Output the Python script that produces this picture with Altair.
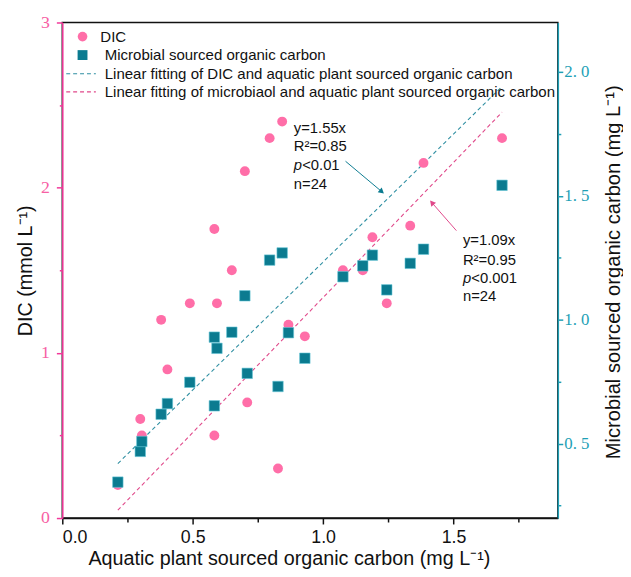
import altair as alt
import pandas as pd

# ---------------- data ----------------
aq_x = [0.213, 0.299, 0.305, 0.379, 0.403, 0.489, 0.583, 0.583, 0.593, 0.650, 0.700, 0.709,
        0.795, 0.827, 0.843, 0.867, 0.930, 1.076, 1.152, 1.189, 1.244, 1.334, 1.385, 1.686]
dic = [0.20, 0.60, 0.50, 1.20, 0.90, 1.30, 0.50, 1.75, 1.30, 1.50, 2.10, 0.70,
       2.30, 0.30, 2.40, 1.17, 1.10, 1.50, 1.50, 1.70, 1.30, 1.77, 2.15, 2.30]
mic = [0.345, 0.469, 0.509, 0.619, 0.662, 0.748, 0.653, 0.930, 0.885, 0.950, 1.097, 0.784,
       1.241, 0.731, 1.270, 0.948, 0.845, 1.174, 1.218, 1.261, 1.121, 1.228, 1.285, 1.543]

fit_x = [0.213, 1.686]
fit_dic = [0.330, 2.613]   # y = 1.55x (left axis)
fit_mic = [0.232, 1.838]   # y = 1.09x (right axis)

ann1_lines = ["y=1.55x", "R\u00b2=0.85", "<0.01", "n=24"]
ann1_x = 0.8875
ann1_y = [2.363, 2.249, 2.137, 2.023]
ann2_lines = ["y=1.09x", "R\u00b2=0.95", "<0.001", "n=24"]
ann2_x = 1.536
ann2_y = [1.321, 1.241, 1.168, 1.094]

arrow1 = {"x": 1.086, "y": 2.160, "x2": 1.225, "y2": 1.976}
arrow2 = {"x": 1.511, "y": 1.360, "x2": 1.417, "y2": 1.473}

legend_labels = ["DIC", "Microbial sourced organic carbon",
                 "Linear fitting of DIC and aquatic plant sourced organic carbon",
                 "Linear fitting of microbiaol and aquatic plant sourced organic carbon"]

# ---------------- styles ----------------
PINK = "#FF6EA8"
PINK_AX = "#F2389A"
PINK_LBL = "#F760A4"
TEAL = "#0B7B90"
TEAL_AX = "#1E9FB6"
BLUE_FIT = "#2F8FA2"
PINK_FIT = "#E0488A"
SANS = "Liberation Sans"
SERIF = "Liberation Serif"
W, H = 502, 502

df = pd.DataFrame({"x": aq_x, "dic": dic, "mic": mic})
fit_df = pd.DataFrame({"x": fit_x, "dic": fit_dic, "mic": fit_mic})
a1 = pd.DataFrame({"x": [ann1_x] * 4, "y": ann1_y, "t": ann1_lines})
a2 = pd.DataFrame({"x": [ann2_x] * 4, "y": ann2_y, "t": ann2_lines})
ar1 = pd.DataFrame([arrow1])
ar2 = pd.DataFrame([arrow2])

XSCALE = alt.Scale(domain=[0, 1.9], nice=False, zero=False)
x_axis = alt.Axis(
    values=[0, 0.25, 0.5, 0.75, 1.0, 1.25, 1.5, 1.75],
    labelExpr="(datum.value * 2) % 1 === 0 ? format(datum.value, '.1f') : ''",
    tickSize={"condition": {"test": "(datum.value * 2) % 1 === 0", "value": 6}, "value": 4},
    grid=False, domainColor="#111", tickColor="#111", domainWidth=1.5, tickWidth=1.5,
    labelFont=SANS, labelFontSize=18, labelColor="#111", labelPadding=5,
    title="Aquatic plant sourced organic carbon (mg L\u207b\u00b9)",
    titleFont=SANS, titleFontSize=20, titleFontWeight="normal", titleColor="#111",
    titleX=229.5, titleY=47, titleAlign="center", titleBaseline="alphabetic", titleAnchor="middle",
)
X = lambda f="x:Q": alt.X(f, scale=XSCALE, axis=x_axis)

left_axis = alt.Axis(
    orient="left",
    values=[0, 0.5, 1, 1.5, 2, 2.5, 3],
    labelExpr="datum.value % 1 === 0 ? format(datum.value, 'd') : ''",
    tickSize={"condition": {"test": "datum.value % 1 === 0", "value": 6}, "value": 3},
    grid=False, domainColor=PINK_AX, tickColor=PINK_AX, domainWidth=1.5, tickWidth=1.5,
    labelFont=SERIF, labelFontSize=18, labelColor=PINK_LBL, labelPadding=7,
    title="DIC (mmol L\u207b\u00b9)",
    titleFont=SANS, titleFontSize=20, titleFontWeight="normal", titleColor="#111",
    titleX=-31, titleY=251, titleAngle=270, titleAlign="center", titleBaseline="alphabetic",
)
YL = lambda f: alt.Y(f, scale=alt.Scale(domain=[0, 3], nice=False, zero=False), axis=left_axis)

right_axis = alt.Axis(
    orient="right",
    values=[0.25, 0.5, 0.75, 1.0, 1.25, 1.5, 1.75, 2.0],
    labelExpr="(datum.value * 2) % 1 === 0 ? replace(format(datum.value, '.1f'), '.', '. ') : ''",
    tickSize={"condition": {"test": "(datum.value * 2) % 1 === 0", "value": 5}, "value": 3},
    grid=False, domainColor=TEAL_AX, tickColor=TEAL_AX, domainWidth=1.5, tickWidth=1.5,
    labelFont=SERIF, labelFontSize=17, labelColor=TEAL_AX, labelPadding=1,
    title="Microbial sourced organic carbon (mg L\u207b\u00b9)",
    titleFont=SANS, titleFontSize=20.4, titleFontWeight="normal", titleColor="#111",
    titleX=62, titleY=252.5, titleAngle=270, titleAlign="center", titleBaseline="alphabetic",
)
YR = lambda f: alt.Y(f, scale=alt.Scale(domain=[0.2, 2.2], nice=False, zero=False), axis=right_axis)


def annotation(a, Y):
    plain = a[~a["t"].str.startswith("<")]
    ptail = a[a["t"].str.startswith("<")]
    m1 = alt.Chart(plain).mark_text(font=SANS, fontSize=15, align="left", baseline="middle",
                                    color="#111").encode(x=X(), y=Y("y:Q"), text="t:N")
    m2 = alt.Chart(ptail).mark_text(font=SANS, fontSize=15, align="left", baseline="middle",
                                    color="#111", dx=8.5).encode(x=X(), y=Y("y:Q"), text="t:N")
    m3 = alt.Chart(ptail).mark_text(font=SANS, fontSize=15, fontStyle="italic", align="left",
                                    baseline="middle", color="#111", text="p").encode(x=X(), y=Y("y:Q"))
    return [m1, m2, m3]


# ---------------- left-axis layer ----------------
circles = alt.Chart(df).mark_point(shape="circle", filled=True, size=100, opacity=1, color=PINK).encode(
    x=X(), y=YL("dic:Q"))
fit_blue = alt.Chart(fit_df).mark_line(color=BLUE_FIT, strokeDash=[4, 3], strokeWidth=1.1).encode(
    x=X(), y=YL("dic:Q"))
arr1_line = alt.Chart(ar1).mark_rule(color=TEAL, strokeWidth=1).encode(
    x=X(), y=YL("y:Q"), x2="x2:Q", y2="y2:Q")
arr1_head = alt.Chart(ar1).mark_point(shape="triangle-up", filled=True, size=40, angle=130, color=TEAL,
                                      opacity=1).encode(x=X("x2:Q"), y=YL("y2:Q"))
left_layer = alt.layer(fit_blue, circles, *annotation(a1, YL), arr1_line, arr1_head)

# ---------------- right-axis layer ----------------
squares = alt.Chart(df).mark_point(shape="square", filled=True, size=112, opacity=1, color=TEAL,
                                   stroke="#62C6D6", strokeWidth=0.6).encode(
    x=X(), y=YR("mic:Q"))
fit_pink = alt.Chart(fit_df).mark_line(color=PINK_FIT, strokeDash=[4, 3], strokeWidth=1.1).encode(
    x=X(), y=YR("mic:Q"))
arr2_line = alt.Chart(ar2).mark_rule(color=PINK_FIT, strokeWidth=1).encode(
    x=X(), y=YR("y:Q"), x2="x2:Q", y2="y2:Q")
arr2_head = alt.Chart(ar2).mark_point(shape="triangle-up", filled=True, size=40, angle=319, color=PINK_FIT,
                                      opacity=1).encode(x=X("x2:Q"), y=YR("y2:Q"))
right_layer = alt.layer(fit_pink, squares, *annotation(a2, YR), arr2_line, arr2_head)

# ---------------- manual legend (pixel positions inside plot) ----------------
one = pd.DataFrame({"k": [0]})
leg_rows_y = [14.3, 33, 52, 70.3]
leg = [
    alt.Chart(one).mark_point(shape="circle", filled=True, size=95, opacity=1, color=PINK).encode(
        x=alt.value(20.5), y=alt.value(leg_rows_y[0])),
    alt.Chart(one).mark_point(shape="square", filled=True, size=100, opacity=1, color=TEAL).encode(
        x=alt.value(20.5), y=alt.value(leg_rows_y[1])),
    alt.Chart(one).mark_rule(color=BLUE_FIT, strokeDash=[4, 3], strokeWidth=1.1).encode(
        x=alt.value(4), x2=alt.value(34), y=alt.value(leg_rows_y[2])),
    alt.Chart(one).mark_rule(color=PINK_FIT, strokeDash=[4, 3], strokeWidth=1.1).encode(
        x=alt.value(4), x2=alt.value(34), y=alt.value(leg_rows_y[3])),
]
for i, lab in enumerate(legend_labels):
    leg.append(alt.Chart(one).mark_text(font=SANS, fontSize=15.2, align="left", baseline="middle",
                                        color="#111", text=lab).encode(
        x=alt.value(38.5 if i == 0 else 43), y=alt.value(leg_rows_y[i])))

chart = alt.layer(left_layer, right_layer, *leg).resolve_scale(y="independent").properties(
    width=W, height=H,
    padding={"left": 55, "top": 11, "right": 66, "bottom": 54},
    autosize=alt.AutoSizeParams(type="none"),
).configure_view(stroke="#111", strokeWidth=1.5)

chart.save("out.html", embed_options={"renderer": "svg", "actions": False})
